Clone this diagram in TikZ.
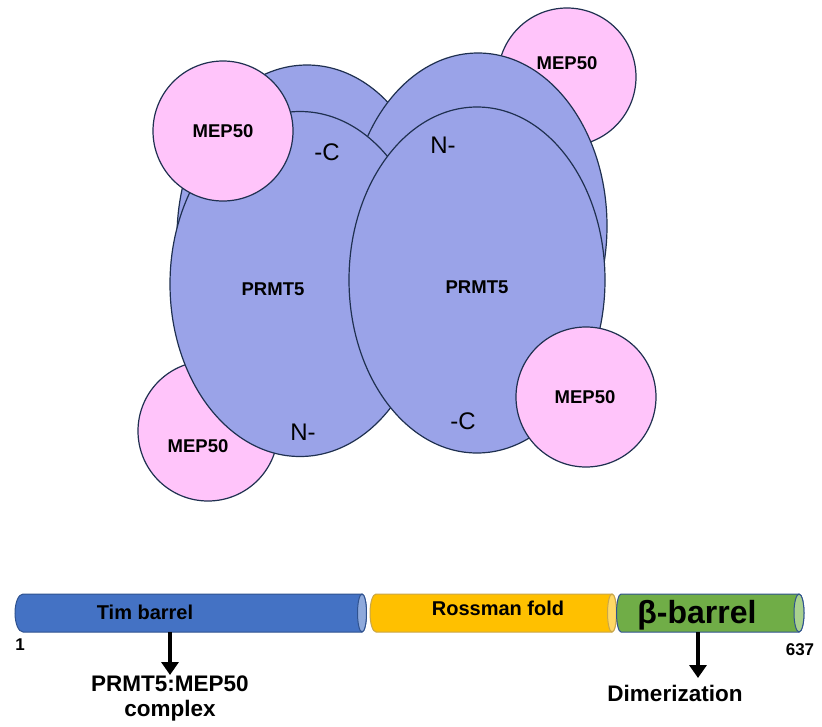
\documentclass[tikz,border=0pt]{standalone}
\usepackage{fontspec}
\setmainfont{Liberation Sans}
\usetikzlibrary{shapes.geometric,arrows.meta}
\definecolor{prmt}{HTML}{9AA3E8}
\definecolor{mep}{HTML}{FFC4FA}
\definecolor{navy}{HTML}{1F3050}
\definecolor{tbF}{HTML}{4472C4}
\definecolor{tbS}{HTML}{2F528F}
\definecolor{tbC}{HTML}{8FAADC}
\definecolor{rfF}{HTML}{FFC000}
\definecolor{rfS}{HTML}{C9A64A}
\definecolor{rfC}{HTML}{FFD966}
\definecolor{bbF}{HTML}{70AD47}
\definecolor{bbC}{HTML}{A9D18E}
\begin{document}
\begin{tikzpicture}[x=1pt,y=-1pt,
  prot/.style={ellipse, draw=navy, fill=prmt, line width=1.2pt, inner sep=0pt},
  mepc/.style={circle, draw=navy, fill=mep, line width=1.2pt, minimum size=140pt, inner sep=0pt},
  lbl/.style={font=\bfseries\fontsize{18.5}{20}\selectfont, inner sep=0pt},
  term/.style={font=\fontsize{24}{26}\selectfont, inner sep=0pt},
  dom/.style={font=\bfseries\fontsize{20}{22}\selectfont, inner sep=0pt},
  big/.style={font=\bfseries\fontsize{22.5}{25}\selectfont, inner sep=0pt, align=center},
  num/.style={font=\bfseries\fontsize{17}{19}\selectfont, inner sep=0pt},
  arr/.style={line width=4pt, -{Triangle[width=17pt,length=13pt]}}]
\useasboundingbox (0,0) rectangle (822,726);
% complex
\node[mepc] (mepBL) at (208,431) {};
\node[mepc, minimum size=138pt] (mepTR) at (567,77) {};
\node[prot, minimum width=260pt, minimum height=344pt] (backL) at (307,237) {};
\node[prot, minimum width=258pt, minimum height=346pt] (backR) at (478,226) {};
\node[prot, minimum width=260pt, minimum height=345pt] (frontL) at (300,284) {};
\node[mepc] (mepTL) at (223,131) {};
\node[prot, minimum width=256pt, minimum height=346pt] (frontR) at (477,280) {};
\node[mepc] (mepBR) at (586,397) {};
\node[lbl] (pL) at (273,289) {PRMT5};
\node[lbl] (pR) at (477,287) {PRMT5};
\node[lbl] (mTL) at (223,131) {MEP50};
\node[lbl] (mTR) at (567,63) {MEP50};
\node[lbl] (mBR) at (585,397) {MEP50};
\node[lbl] (mBL) at (198,446) {MEP50};
\node[term] (cL) at (327,152) {-C};
\node[term] (nR) at (443,145) {N-};
\node[term] (nL) at (303,432) {N-};
\node[term] (cR) at (463,421) {-C};
% domain bar
\draw[fill=tbF, draw=tbS, line width=1pt] (362,594) -- (23,594)
  arc[start angle=270, end angle=90, x radius=8, y radius=19] -- (362,632)
  arc[start angle=90, end angle=-90, x radius=4.5, y radius=19] -- cycle;
\draw[fill=tbC, draw=tbS, line width=1pt] (362,613) ellipse [x radius=4.5, y radius=19];
\draw[fill=rfF, draw=rfS, line width=1pt] (612,594) -- (376,594)
  arc[start angle=270, end angle=90, x radius=6, y radius=19] -- (612,632)
  arc[start angle=90, end angle=-90, x radius=4.5, y radius=19] -- cycle;
\draw[fill=rfC, draw=rfS, line width=1pt] (612,613) ellipse [x radius=4.5, y radius=19];
\draw[fill=bbF, draw=tbS, line width=1pt] (799,594) -- (621,594)
  arc[start angle=270, end angle=90, x radius=4.5, y radius=19] -- (799,632)
  arc[start angle=90, end angle=-90, x radius=5, y radius=19] -- cycle;
\draw[fill=bbC, draw=tbS, line width=1pt] (799,613) ellipse [x radius=5, y radius=19];
\node[dom] (tb) at (145,612) {Tim barrel};
\node[dom] (rf) at (498,608) {Rossman fold};
\node[font=\bfseries\fontsize{32}{34}\selectfont, inner sep=0pt] (bb) at (697,615) {β-barrel};
\node[num] (n1) at (20,645) {1};
\node[num] (n637) at (800,650) {637};
\node[big] (cplx) at (170,698) {PRMT5:MEP50\\complex};
\node[big] (dim) at (675,693) {Dimerization};
\coordinate (tbA) at (170,632);
\coordinate (tbB) at (170,675);
\coordinate (bbA) at (698,632);
\coordinate (bbB) at (698,678);
\draw[arr] (tbA) -- (tbB);
\draw[arr] (bbA) -- (bbB);
\end{tikzpicture}
\end{document}
